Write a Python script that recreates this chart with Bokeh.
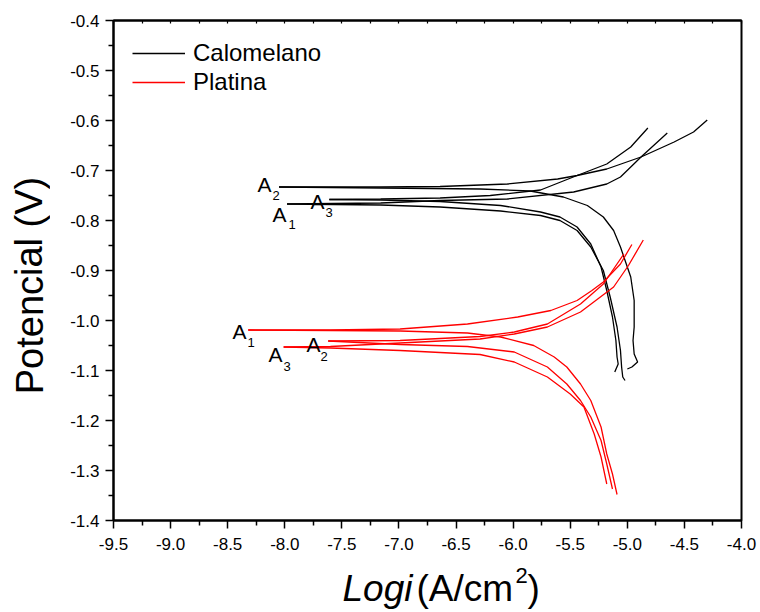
from bokeh.plotting import figure
from bokeh.models import (ColumnDataSource, Range1d, LinearAxis, FixedTicker,
                          NumeralTickFormatter, Legend, LegendItem)
from bokeh.layouts import row, column
from bokeh.embed import file_html
from bokeh.resources import INLINE
from bokeh.core.properties import value

# ---------------- data (log i in A/cm2, potential in V) ----------------
x_ticks = [-9.5, -9.0, -8.5, -8.0, -7.5, -7.0, -6.5, -6.0, -5.5, -5.0, -4.5, -4.0]
x_minor = [-9.25, -8.75, -8.25, -7.75, -7.25, -6.75, -6.25, -5.75, -5.25, -4.75, -4.25]
y_ticks = [-1.4, -1.3, -1.2, -1.1, -1.0, -0.9, -0.8, -0.7, -0.6, -0.5, -0.4]
y_minor = [-1.35, -1.25, -1.15, -1.05, -0.95, -0.85, -0.75, -0.65, -0.55, -0.45]

# Calomelano (black)
cal_A1_anod_x = [-7.98, -7.16, -6.64, -6.05, -5.47, -5.18, -5.06, -4.97, -4.88, -4.65]
cal_A1_anod_y = [-0.767, -0.765, -0.760, -0.757, -0.743, -0.727, -0.713, -0.693, -0.673, -0.625]
cal_A1_cat_x = [-7.98, -7.16, -6.64, -6.11, -5.76, -5.59, -5.44, -5.32, -5.21, -5.15, -5.09, -5.06, -5.05, -5.04, -5.02]
cal_A1_cat_y = [-0.767, -0.769, -0.773, -0.781, -0.790, -0.800, -0.820, -0.853, -0.900, -0.953, -1.013, -1.060, -1.093, -1.113, -1.120]
cal_A2_anod_x = [-8.05, -7.16, -6.64, -6.05, -5.61, -5.44, -5.18, -4.88, -4.59, -4.42, -4.30]
cal_A2_anod_y = [-0.733, -0.733, -0.732, -0.727, -0.717, -0.710, -0.697, -0.673, -0.643, -0.623, -0.599]
cal_A2_cat_x = [-8.05, -7.16, -6.29, -5.85, -5.56, -5.35, -5.21, -5.12, -5.06, -5.00, -4.97, -4.94, -4.94, -4.95, -4.94, -4.91, -4.96, -5.00]
cal_A2_cat_y = [-0.733, -0.735, -0.737, -0.741, -0.753, -0.770, -0.793, -0.820, -0.853, -0.893, -0.913, -0.960, -1.013, -1.040, -1.067, -1.083, -1.093, -1.097]
cal_A3_anod_x = [-7.61, -7.16, -6.64, -6.20, -5.76, -5.44, -5.18, -4.97, -4.82]
cal_A3_anod_y = [-0.758, -0.757, -0.755, -0.750, -0.739, -0.710, -0.687, -0.653, -0.615]
cal_A3_cat_x = [-7.61, -7.16, -6.64, -6.11, -5.76, -5.59, -5.44, -5.32, -5.23, -5.18, -5.13, -5.10, -5.09, -5.08, -5.11]
cal_A3_cat_y = [-0.758, -0.759, -0.762, -0.770, -0.783, -0.793, -0.813, -0.847, -0.893, -0.940, -0.993, -1.040, -1.073, -1.087, -1.103]

# Platina (red)
pt_A1_anod_x = [-8.32, -7.60, -6.99, -6.40, -5.96, -5.67, -5.44, -5.31, -5.21, -5.06, -4.96]
pt_A1_anod_y = [-1.019, -1.019, -1.017, -1.007, -0.993, -0.980, -0.960, -0.940, -0.923, -0.887, -0.848]
pt_A1_cat_x = [-8.32, -7.60, -6.99, -6.40, -6.11, -5.82, -5.64, -5.53, -5.41, -5.32, -5.23, -5.18, -5.13, -5.09]
pt_A1_cat_y = [-1.019, -1.020, -1.021, -1.025, -1.033, -1.050, -1.073, -1.093, -1.127, -1.160, -1.213, -1.267, -1.307, -1.348]
pt_A2_anod_x = [-7.62, -6.99, -6.29, -5.99, -5.70, -5.41, -5.21, -5.03]
pt_A2_anod_y = [-1.041, -1.040, -1.032, -1.023, -1.007, -0.967, -0.927, -0.867]
pt_A2_cat_x = [-7.62, -6.99, -6.40, -5.99, -5.70, -5.53, -5.41, -5.32, -5.23, -5.18, -5.13]
pt_A2_cat_y = [-1.041, -1.048, -1.052, -1.063, -1.093, -1.127, -1.160, -1.193, -1.240, -1.287, -1.337]
pt_A3_anod_x = [-8.01, -7.60, -6.99, -6.29, -5.99, -5.70, -5.41, -5.12, -4.99, -4.86]
pt_A3_anod_y = [-1.053, -1.052, -1.045, -1.037, -1.027, -1.013, -0.983, -0.933, -0.890, -0.839]
pt_A3_cat_x = [-8.01, -7.60, -6.99, -6.29, -5.99, -5.70, -5.50, -5.38, -5.29, -5.23, -5.18]
pt_A3_cat_y = [-1.053, -1.055, -1.060, -1.068, -1.083, -1.113, -1.147, -1.173, -1.227, -1.273, -1.327]

# curve labels (A + subscript); y is the visual middle of each glyph
lab_text = ["A", "2", "A", "1", "A", "3", "A", "1", "A", "3", "A", "2"]
lab_x = [-8.239, -8.107, -8.107, -7.967, -7.775, -7.643, -8.458, -8.326, -8.142, -8.011, -7.810, -7.687]
lab_y = [-0.728, -0.749, -0.788, -0.807, -0.762, -0.784, -1.022, -1.044, -1.068, -1.091, -1.048, -1.071]
lab_size = ["21px", "13px", "21px", "13px", "21px", "13px", "21px", "13px", "21px", "13px", "21px", "13px"]

# axis titles (text pieces)
y_title = "Potencial (V)"
x_title_parts = ["Logi", "(A/cm", "2", ")"]

FONT = "Liberation Sans"
LEFT_W = 50
BOT_H = 52

# ---------------- main plot ----------------
p = figure(width=760 - LEFT_W, height=612 - BOT_H, output_backend="svg", toolbar_location=None,
           x_range=Range1d(-9.5, -4.0), y_range=Range1d(-1.4, -0.4),
           min_border_left=113 - LEFT_W, min_border_right=19, min_border_top=20, min_border_bottom=40)
p.grid.visible = False
p.outline_line_color = "black"
p.outline_line_width = 2

cal_src = ColumnDataSource(dict(
    xs=[cal_A1_anod_x, cal_A1_cat_x, cal_A2_anod_x, cal_A2_cat_x, cal_A3_anod_x, cal_A3_cat_x],
    ys=[cal_A1_anod_y, cal_A1_cat_y, cal_A2_anod_y, cal_A2_cat_y, cal_A3_anod_y, cal_A3_cat_y]))
pt_src = ColumnDataSource(dict(
    xs=[pt_A1_anod_x, pt_A1_cat_x, pt_A2_anod_x, pt_A2_cat_x, pt_A3_anod_x, pt_A3_cat_x],
    ys=[pt_A1_anod_y, pt_A1_cat_y, pt_A2_anod_y, pt_A2_cat_y, pt_A3_anod_y, pt_A3_cat_y]))
rb = p.multi_line("xs", "ys", source=cal_src, line_color="black", line_width=1.3)
rr = p.multi_line("xs", "ys", source=pt_src, line_color="red", line_width=1.3)

lab_src = ColumnDataSource(dict(x=lab_x, y=lab_y, t=lab_text, s=lab_size))
p.text("x", "y", text="t", source=lab_src, text_font=value(FONT), text_font_size="s",
       text_color="black", text_baseline="alphabetic", text_align="left")

xa = p.xaxis[0]
ya = p.yaxis[0]
xa.ticker = FixedTicker(ticks=x_ticks, minor_ticks=x_minor)
ya.ticker = FixedTicker(ticks=y_ticks, minor_ticks=y_minor)
for ax in (xa, ya):
    ax.formatter = NumeralTickFormatter(format="0.0")
    ax.axis_line_width = 2
    ax.major_tick_line_width = 1.5
    ax.minor_tick_line_width = 1.5
    ax.major_tick_in = 0
    ax.major_tick_out = 8
    ax.minor_tick_in = 0
    ax.minor_tick_out = 5
    ax.major_label_text_font = FONT
    ax.major_label_text_font_size = "17px"
    ax.major_label_text_color = "black"
xa.major_label_standoff = 9
ya.major_label_standoff = 6

top = LinearAxis(ticker=FixedTicker(ticks=[], minor_ticks=x_ticks + x_minor),
                 minor_tick_in=3, minor_tick_out=0, major_tick_in=0, major_tick_out=0,
                 axis_line_width=2, minor_tick_line_width=1.2)
p.add_layout(top, "above")

legend = Legend(items=[LegendItem(label="Calomelano", renderers=[rb]),
                       LegendItem(label="Platina", renderers=[rr])],
                location="top_left", border_line_color=None, background_fill_alpha=0,
                label_text_font=FONT, label_text_font_size="24px", label_text_color="black",
                glyph_width=53, glyph_height=28, label_height=28, label_standoff=8,
                spacing=1, padding=0, margin=19)
p.add_layout(legend)

# ---------------- y title strip (page pixel coordinates) ----------------
left = figure(width=LEFT_W, height=612, output_backend="svg", toolbar_location=None,
              x_range=Range1d(0, LEFT_W), y_range=Range1d(612, 0),
              min_border_left=0, min_border_right=0, min_border_top=0, min_border_bottom=0,
              x_axis_location=None, y_axis_location=None, title=None)
left.grid.visible = False
left.outline_line_color = None
left.text(x=[29], y=[285], text=[y_title], angle=1.5708, text_font=value(FONT),
          text_font_size="38px", text_color="black", text_align="center",
          text_baseline="alphabetic")

# ---------------- x title strip (page pixel coordinates) ----------------
bottom = figure(width=760 - LEFT_W, height=BOT_H, output_backend="svg", toolbar_location=None,
                x_range=Range1d(113, 741), y_range=Range1d(612, 560),
                min_border_left=113 - LEFT_W, min_border_right=19,
                min_border_top=0, min_border_bottom=0,
                x_axis_location=None, y_axis_location=None, title=None)
bottom.grid.visible = False
bottom.outline_line_color = None
bottom.text(x=[342], y=[588], text=[x_title_parts[0]], text_font=value(FONT),
            text_font_size="37px", text_font_style="italic", text_color="black",
            text_baseline="alphabetic")
bottom.text(x=[416, 527], y=[588, 588], text=[x_title_parts[1], x_title_parts[3]],
            text_font=value(FONT), text_font_size="37px", text_color="black",
            text_baseline="alphabetic")
bottom.text(x=[515], y=[575], text=[x_title_parts[2]], text_font=value(FONT),
            text_font_size="22px", text_color="black", text_baseline="alphabetic")

layout = row(left, column(p, bottom))
open("out.html", "w").write(file_html(layout, INLINE))
